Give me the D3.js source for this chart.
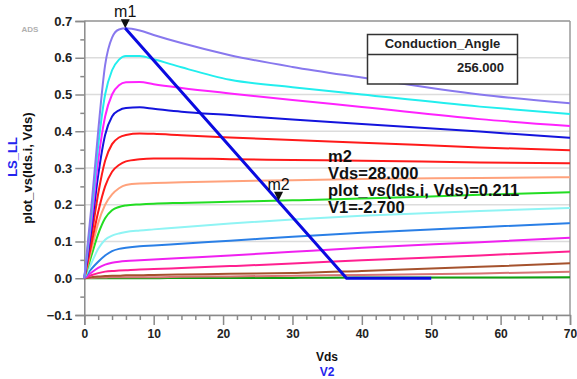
<!DOCTYPE html>
<html>
<head>
<meta charset="utf-8">
<script src="https://cdn.jsdelivr.net/npm/d3@7"></script>
<style>
  html, body { margin: 0; padding: 0; background: #fff; }
  svg { display: block; font-family: "Liberation Sans", Arial, sans-serif; }
  .axis path, .axis line { stroke: #8a8a8a; }
  .axis text { font-weight: bold; fill: #222; }
</style>
</head>
<body>
<svg id="chart" width="577" height="379"></svg>
<script>
// Vds sweep points (V)
const vds = [0, 1, 2, 3, 4, 5, 6, 8, 10, 14, 21, 30, 40, 57, 70];

// Ids.i for each V1 step, top curve first
const idsCurves = [
  [0, 0.19, 0.40, 0.58, 0.655, 0.677, 0.680, 0.674, 0.662, 0.640, 0.607, 0.575, 0.546, 0.500, 0.476],
  [0, 0.17, 0.36, 0.50, 0.566, 0.595, 0.605, 0.605, 0.596, 0.574, 0.540, 0.520, 0.500, 0.467, 0.447],
  [0, 0.15, 0.32, 0.44, 0.500, 0.525, 0.533, 0.534, 0.528, 0.518, 0.503, 0.485, 0.466, 0.433, 0.414],
  [0, 0.13, 0.28, 0.39, 0.440, 0.457, 0.463, 0.465, 0.461, 0.453, 0.444, 0.432, 0.420, 0.399, 0.382],
  [0, 0.11, 0.23, 0.32, 0.365, 0.383, 0.390, 0.394, 0.393, 0.389, 0.383, 0.376, 0.369, 0.356, 0.348],
  [0, 0.09, 0.18, 0.25, 0.290, 0.308, 0.318, 0.324, 0.326, 0.326, 0.324, 0.322, 0.320, 0.315, 0.313],
  [0, 0.075, 0.15, 0.20, 0.228, 0.245, 0.254, 0.258, 0.259, 0.261, 0.264, 0.267, 0.270, 0.273, 0.275],
  [0, 0.06, 0.12, 0.163, 0.185, 0.194, 0.198, 0.201, 0.203, 0.205, 0.208, 0.212, 0.217, 0.227, 0.234],
  [0, 0.04, 0.08, 0.105, 0.116, 0.122, 0.126, 0.130, 0.133, 0.139, 0.149, 0.160, 0.170, 0.183, 0.191],
  [0, 0.025, 0.045, 0.062, 0.074, 0.080, 0.083, 0.087, 0.089, 0.094, 0.102, 0.113, 0.124, 0.139, 0.150],
  [0, 0.015, 0.028, 0.037, 0.042, 0.045, 0.047, 0.049, 0.051, 0.055, 0.062, 0.072, 0.083, 0.098, 0.110],
  [0, 0.008, 0.014, 0.018, 0.020, 0.021, 0.022, 0.024, 0.025, 0.028, 0.033, 0.040, 0.049, 0.062, 0.073],
  [0, 0.003, 0.005, 0.006, 0.007, 0.007, 0.008, 0.008, 0.009, 0.010, 0.012, 0.014, 0.020, 0.031, 0.041],
  [0, 0.001, 0.002, 0.002, 0.003, 0.003, 0.003, 0.003, 0.003, 0.004, 0.005, 0.007, 0.009, 0.013, 0.018],
  [0, 0, 0, 0, 0, 0, 0, 0, 0, 0.001, 0.001, 0.001, 0.002, 0.002, 0.003]
];
const curveColors = ["#8878ee", "#22eeee", "#ff22ff", "#1414dd", "#ff1a1a", "#ff1a1a", "#ffa27c",
  "#22dd22", "#8ff4f4", "#2a7fe6", "#f020f0", "#ff2090", "#a5522d", "#d67474", "#12a012"];

// load line
const loadV = [5.9, 37.8, 50];
const loadI = [0.68, 0, 0];

// markers
const markers = [
  { name: "m1", v: 5.9, i: 0.68 },
  { name: "m2", v: 28, i: 0.211 }
];
const m2Readout = ["m2", "Vds=28.000", "plot_vs(Ids.i, Vds)=0.211", "V1=-2.700"];

const xTicks = [0, 10, 20, 30, 40, 50, 60, 70];
const yTicks = [-0.1, 0.0, 0.1, 0.2, 0.3, 0.4, 0.5, 0.6, 0.7];

const svg = d3.select("#chart");
const x = d3.scaleLinear().domain([0, 70]).range([84.3, 570]);
const y = d3.scaleLinear().domain([-0.1, 0.7]).range([315, 21]);

// grid
svg.append("g").selectAll("line").data(yTicks).join("line")
  .attr("x1", x(0)).attr("x2", x(70))
  .attr("y1", d => y(d)).attr("y2", d => y(d))
  .attr("stroke", "#dcdcdc").attr("stroke-width", 1.5);

// frame top + right
svg.append("line").attr("x1", x(0)).attr("x2", x(70)).attr("y1", y(0.7)).attr("y2", y(0.7))
  .attr("stroke", "#9a9a9a").attr("stroke-width", 1.5);
svg.append("line").attr("x1", x(70)).attr("x2", x(70)).attr("y1", y(0.7)).attr("y2", y(-0.1))
  .attr("stroke", "#9a9a9a").attr("stroke-width", 1.5);

// axes
const yAxis = svg.append("g").attr("class", "axis").attr("transform", `translate(${x(0)},0)`)
  .call(d3.axisLeft(y).tickValues(yTicks).tickSize(9).tickPadding(3).tickFormat(d3.format(".1f")));
yAxis.selectAll("text").style("font-size", "13px");
svg.append("g").attr("class", "axis").attr("transform", `translate(${x(0)},0)`)
  .call(d3.axisLeft(y).tickValues(d3.range(-0.05, 0.7, 0.1)).tickSize(4).tickFormat(""))
  .select(".domain").remove();

const xAxis = svg.append("g").attr("class", "axis").attr("transform", `translate(0,${y(-0.1)})`)
  .call(d3.axisBottom(x).tickValues(xTicks).tickSize(10).tickPadding(4));
xAxis.selectAll("text").style("font-size", "12px");
svg.append("g").attr("class", "axis").attr("transform", `translate(0,${y(-0.1)})`)
  .call(d3.axisBottom(x).tickValues(d3.range(2, 70, 2).filter(d => d % 10 !== 0)).tickSize(5).tickFormat(""))
  .select(".domain").remove();
svg.selectAll(".axis path, .axis line").attr("stroke-width", 1.5);

// curves
const line = d3.line().x((d, k) => x(vds[k])).y(d => y(d)).curve(d3.curveMonotoneX);
svg.append("g").selectAll("path").data(idsCurves.slice().reverse()).join("path")
  .attr("d", line)
  .attr("fill", "none")
  .attr("stroke", (d, k) => curveColors[idsCurves.length - 1 - k])
  .attr("stroke-width", 2);

// load line
svg.append("path")
  .attr("d", d3.line().x((d, k) => x(loadV[k])).y(d => y(d))(loadI))
  .attr("fill", "none").attr("stroke", "#0a0ae0").attr("stroke-width", 3);

// markers
markers.forEach(m => {
  svg.append("path")
    .attr("transform", `translate(${x(m.v)},${y(m.i)})`)
    .attr("d", "M-4.5,-9L4.5,-9L0,0Z").attr("fill", "#111");
  svg.append("text").attr("x", x(m.v)).attr("y", y(m.i) - 11)
    .attr("text-anchor", "middle").style("font-size", "16px").style("fill", "#111")
    .text(m.name);
});

// readout
svg.append("g").selectAll("text").data(m2Readout).join("text")
  .attr("x", 328).attr("y", (d, k) => 162 + k * 17)
  .style("font-size", "16.5px").style("font-weight", "bold").style("fill", "#111")
  .text(d => d);

// Conduction_Angle box
const box = svg.append("g");
box.append("rect").attr("x", 367.5).attr("y", 34.5).attr("width", 150).attr("height", 49.5)
  .attr("fill", "#fff").attr("stroke", "#333").attr("stroke-width", 1.5);
box.append("line").attr("x1", 367.5).attr("x2", 517.5).attr("y1", 54.5).attr("y2", 54.5)
  .attr("stroke", "#333").attr("stroke-width", 1.5);
box.append("text").attr("x", 442.5).attr("y", 48).attr("text-anchor", "middle")
  .style("font-size", "13px").style("font-weight", "bold").style("fill", "#222").text("Conduction_Angle");
box.append("text").attr("x", 504).attr("y", 72).attr("text-anchor", "end")
  .style("font-size", "13px").style("font-weight", "bold").style("fill", "#222").text("256.000");

// titles
svg.append("text").attr("x", 30).attr("y", 32).attr("text-anchor", "middle")
  .style("font-size", "8px").style("font-weight", "bold").style("fill", "#b0b0b0").text("ADS");
svg.append("text").attr("transform", "translate(32,168) rotate(-90)").attr("text-anchor", "middle")
  .style("font-size", "13px").style("font-weight", "bold").style("fill", "#111").text("plot_vs(Ids.i, Vds)");
svg.append("text").attr("transform", "translate(17,157) rotate(-90)").attr("text-anchor", "middle")
  .style("font-size", "13px").style("font-weight", "bold").style("fill", "#2424ee").text("LS_LL");
svg.append("text").attr("x", 327).attr("y", 361).attr("text-anchor", "middle")
  .style("font-size", "12px").style("font-weight", "bold").style("fill", "#111").text("Vds");
svg.append("text").attr("x", 327).attr("y", 376).attr("text-anchor", "middle")
  .style("font-size", "12px").style("font-weight", "bold").style("fill", "#2424ee").text("V2");
</script>
</body>
</html>
